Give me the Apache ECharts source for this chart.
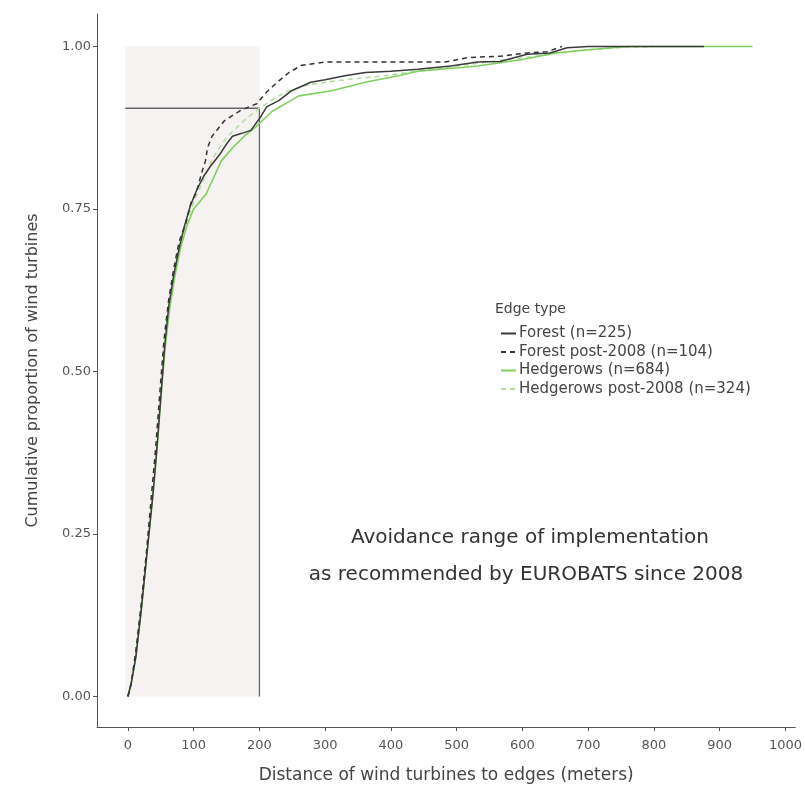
<!DOCTYPE html>
<html>
<head>
<meta charset="utf-8">
<script src="https://cdn.jsdelivr.net/npm/echarts@6/dist/echarts.min.js"></script>
<style>html,body{margin:0;padding:0;background:#fff}#c{width:805px;height:789px}</style>
</head>
<body>
<div id="c"></div>
<script>
// ---- data (distance in m, cumulative proportion) ----
const seriesNames = ['Forest (n=225)', 'Forest post-2008 (n=104)', 'Hedgerows (n=684)', 'Hedgerows post-2008 (n=324)'];
const forest = [[0,0],[5,0.02],[12,0.06],[20,0.13],[27,0.2],[33,0.26],[38,0.31],[44,0.38],[50,0.46],[56,0.54],[62,0.6],[70,0.65],[78,0.69],[85,0.72],[95,0.755],[105,0.78],[115,0.8],[125,0.815],[139,0.833],[150,0.85],[159,0.862],[172,0.866],[187,0.871],[202,0.892],[211,0.907],[230,0.917],[249,0.932],[278,0.945],[300,0.949],[330,0.955],[361,0.96],[400,0.962],[441,0.965],[491,0.97],[532,0.976],[566,0.977],[607,0.988],[642,0.99],[668,0.998],[700,1.0],[876,1.0]];
const forestPost = [[0,0],[5,0.02],[12,0.07],[20,0.14],[28,0.22],[35,0.3],[42,0.38],[48,0.46],[55,0.55],[62,0.61],[70,0.66],[78,0.7],[87,0.725],[96,0.76],[104,0.775],[112,0.805],[118,0.824],[121,0.844],[128,0.862],[147,0.886],[172,0.902],[196,0.912],[211,0.93],[227,0.945],[245,0.96],[264,0.971],[300,0.976],[400,0.976],[482,0.976],[517,0.983],[566,0.985],[607,0.99],[637,0.992],[660,1.0]];
const hedgerows = [[0,0],[5,0.02],[12,0.06],[20,0.13],[27,0.2],[33,0.26],[39,0.32],[45,0.39],[51,0.47],[57,0.54],[64,0.6],[72,0.65],[80,0.69],[90,0.725],[100,0.75],[119,0.773],[142,0.824],[160,0.845],[179,0.864],[192,0.874],[219,0.9],[260,0.924],[310,0.932],[361,0.945],[411,0.955],[441,0.962],[532,0.97],[600,0.98],[650,0.99],[700,0.995],[760,1.0],[950,1.0]];
const hedgerowsPost = [[0,0],[5,0.02],[12,0.065],[20,0.135],[27,0.2],[33,0.265],[39,0.33],[45,0.4],[51,0.48],[57,0.55],[64,0.61],[72,0.655],[80,0.695],[90,0.73],[100,0.76],[115,0.795],[130,0.83],[150,0.86],[165,0.875],[180,0.889],[200,0.905],[220,0.918],[240,0.93],[270,0.94],[300,0.945],[340,0.95],[390,0.955],[440,0.962],[500,0.97],[560,0.978],[620,0.985],[680,0.993],[740,0.998],[800,1.0]];
const xTicks = [0,100,200,300,400,500,600,700,800,900,1000];
const yTicks = [0,0.25,0.5,0.75,1];
const refLine = [[-4,0.905],[200,0.905],[200,0]];
const shadeRange = [[-4,0],[200,1.0]];
const labels = {pct:'89%', note1:'Avoidance range of implementation', note2:'as recommended by EUROBATS since 2008', legendTitle:'Edge type',
  xTitle:'Distance of wind turbines to edges (meters)', yTitle:'Cumulative proportion of wind turbines'};

const FONT = 'DejaVu Sans, Liberation Sans, sans-serif';
const chart = echarts.init(document.getElementById('c'), null, {renderer:'canvas'});
const lineBase = {type:'line', symbol:'none', showSymbol:false, smooth:false, z:5};
chart.setOption({
  animation:false,
  textStyle:{fontFamily:FONT},
  grid:{left:97, right:5, top:14, bottom:51},
  xAxis:{type:'value', min:-47, max:1015,
    splitLine:{show:false},
    axisLine:{onZero:false, lineStyle:{color:'#555', width:1}},
    axisTick:{customValues:xTicks, length:4, lineStyle:{color:'#555'}},
    axisLabel:{customValues:xTicks, color:'#555', fontSize:13, margin:12, fontFamily:FONT, formatter:v=>String(v)},
    name:labels.xTitle, nameLocation:'middle', nameGap:40,
    nameTextStyle:{color:'#444', fontSize:17, fontFamily:FONT}},
  yAxis:{type:'value', min:-0.047, max:1.05,
    splitLine:{show:false},
    axisLine:{show:true, onZero:false, lineStyle:{color:'#555', width:1}},
    axisTick:{show:true, customValues:yTicks, length:4, lineStyle:{color:'#555'}},
    axisLabel:{customValues:yTicks, color:'#555', fontSize:13, margin:6, fontFamily:FONT, formatter:v=>v.toFixed(2)},
    name:labels.yTitle, nameLocation:'middle', nameGap:56,
    nameTextStyle:{color:'#444', fontSize:16, fontFamily:FONT}},
  legend:{orient:'vertical', left:495, top:321, itemWidth:15, itemHeight:14, itemGap:3.5,
    itemStyle:{opacity:0},
    data:seriesNames, textStyle:{color:'#444', fontSize:15, fontFamily:FONT, padding:[0,0,0,-2]}, selectedMode:false},
  graphic:[
    {type:'text', left:495, top:302, style:{text:labels.legendTitle, fill:'#444', font:'14px '+FONT}},
    {type:'text', left:137, top:79, style:{text:labels.pct, fill:'#555', font:'15px '+FONT}},
    {type:'text', x:530, y:538, style:{text:labels.note1, fill:'#333', font:'20px '+FONT, align:'center', verticalAlign:'middle'}},
    {type:'text', x:526, y:575, style:{text:labels.note2, fill:'#333', font:'20px '+FONT, align:'center', verticalAlign:'middle'}}
  ],
  series:[
    {type:'line', name:'ref', data:refLine, symbol:'none', silent:true, z:2,
      lineStyle:{color:'#666', width:1.3},
      markArea:{silent:true, itemStyle:{color:'#f6f2f2'}, data:[[{coord:shadeRange[0]},{coord:shadeRange[1]}]]}},
    Object.assign({}, lineBase, {name:seriesNames[3], data:hedgerowsPost, lineStyle:{color:'#b4dea0', width:1.6, type:[5,4]}, itemStyle:{color:'#b4dea0'}}),
    Object.assign({}, lineBase, {name:seriesNames[2], data:hedgerows, lineStyle:{color:'#7fcf5f', width:1.6}, itemStyle:{color:'#7fcf5f'}}),
    Object.assign({}, lineBase, {name:seriesNames[0], data:forest, lineStyle:{color:'#3a3a3a', width:1.5}, itemStyle:{color:'#3a3a3a'}}),
    Object.assign({}, lineBase, {name:seriesNames[1], data:forestPost, lineStyle:{color:'#333', width:1.5, type:[5,4]}, itemStyle:{color:'#333'}})
  ]
});
</script>
</body>
</html>
